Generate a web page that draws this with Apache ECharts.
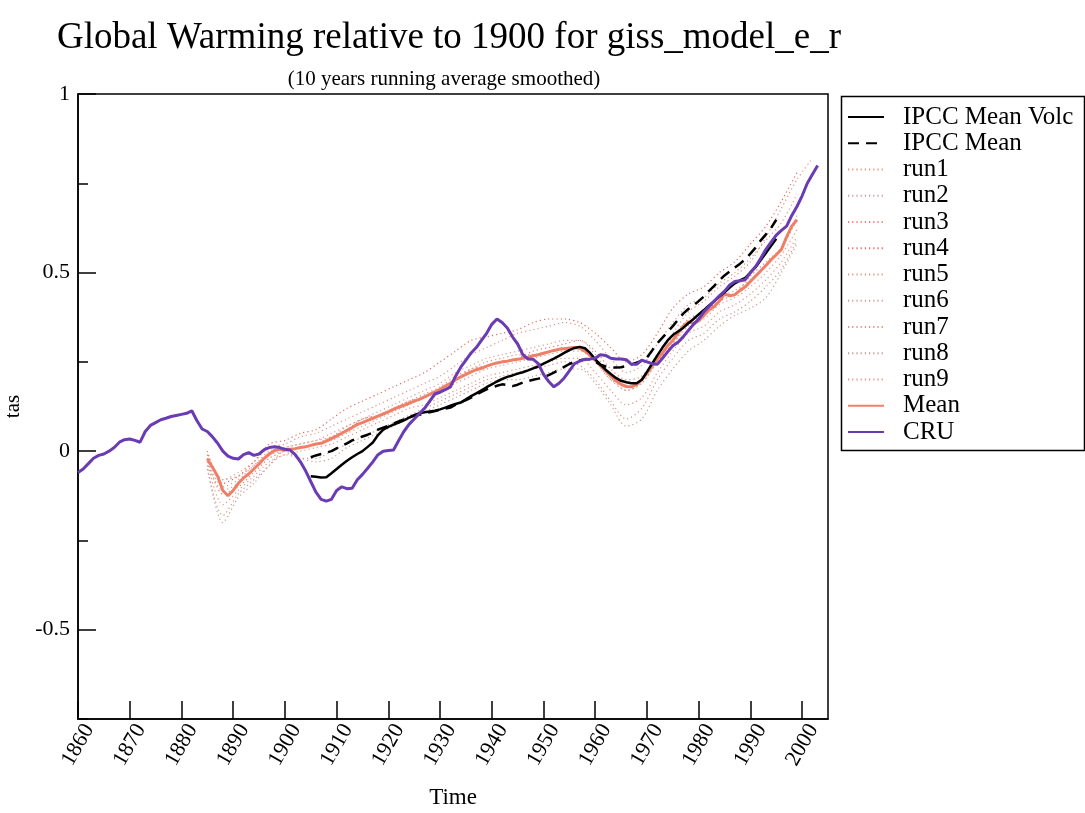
<!DOCTYPE html>
<html>
<head>
<meta charset="utf-8">
<title>Global Warming relative to 1900 for giss_model_e_r</title>
<script src="https://cdn.jsdelivr.net/npm/echarts@6/dist/echarts.min.js"></script>
<style>
  html, body { margin: 0; padding: 0; background: #ffffff; }
  #chart { width: 1085px; height: 813px; }
</style>
</head>
<body>
<div id="chart"></div>
<script>
// ---- data: annual anomalies (K) relative to 1900, 10-year running mean ----
const cruStart = 1860;
const cru = [
  -0.06, -0.05, -0.035, -0.02, -0.012, -0.008, 0.0, 0.01, 0.025, 0.032,
  0.034, 0.03, 0.025, 0.055, 0.072, 0.08, 0.088, 0.092, 0.097, 0.1,
  0.103, 0.106, 0.113, 0.085, 0.062, 0.055, 0.04, 0.022, 0.0, -0.014,
  -0.02, -0.022, -0.01, -0.004, -0.012, -0.008, 0.004, 0.01, 0.012, 0.01,
  0.005, 0.003, -0.01, -0.03, -0.055, -0.085, -0.115, -0.135, -0.14, -0.135,
  -0.11, -0.1, -0.105, -0.104, -0.08, -0.065, -0.048, -0.03, -0.01, 0.0,
  0.002, 0.003, 0.03, 0.055, 0.075, 0.09, 0.105, 0.12, 0.14, 0.16,
  0.165, 0.172, 0.18, 0.21, 0.235, 0.255, 0.275, 0.29, 0.31, 0.33,
  0.355, 0.37, 0.36, 0.345, 0.32, 0.3, 0.27, 0.258, 0.257, 0.245,
  0.215, 0.195, 0.18, 0.19, 0.205, 0.225, 0.245, 0.252, 0.257, 0.258,
  0.26, 0.27, 0.268, 0.26, 0.258, 0.258, 0.256, 0.243, 0.243, 0.255,
  0.25, 0.245, 0.243, 0.26, 0.278, 0.295, 0.305, 0.32, 0.338, 0.355,
  0.37, 0.39, 0.405, 0.42, 0.435, 0.448, 0.465, 0.475, 0.477, 0.48,
  0.5, 0.517, 0.54, 0.565, 0.585, 0.605, 0.618, 0.63, 0.66, 0.685,
  0.715, 0.75, 0.775, 0.8
];

const meanStart = 1885;
const ensembleMean = [
  -0.022, -0.045, -0.07, -0.11, -0.125, -0.11, -0.09, -0.075, -0.064, -0.05,
  -0.036, -0.02, -0.008, 0.002, 0.005, 0.003, 0.005, 0.007, 0.01, 0.012,
  0.016, 0.02, 0.022, 0.028, 0.035, 0.042, 0.05, 0.058, 0.066, 0.075,
  0.08, 0.086, 0.092, 0.098, 0.104, 0.11, 0.117, 0.123, 0.128, 0.134,
  0.14, 0.145, 0.152, 0.159, 0.166, 0.173, 0.182, 0.19, 0.2, 0.208,
  0.215, 0.222, 0.228, 0.232, 0.238, 0.243, 0.247, 0.25, 0.252, 0.255,
  0.257, 0.26, 0.263, 0.267, 0.27, 0.274, 0.278, 0.282, 0.285, 0.287,
  0.289, 0.29, 0.288, 0.28, 0.268, 0.255, 0.24, 0.225, 0.21, 0.197,
  0.187, 0.181, 0.18, 0.186, 0.2, 0.218, 0.238, 0.258, 0.275, 0.295,
  0.31, 0.33, 0.35, 0.362, 0.358, 0.365, 0.38, 0.395, 0.405, 0.42,
  0.44, 0.435, 0.438, 0.45, 0.46, 0.475, 0.49, 0.505, 0.52, 0.536,
  0.55, 0.565, 0.6, 0.63, 0.648
];

const ipccStart = 1905;
const ipccMeanVolc = [
  -0.07, -0.072, -0.074, -0.073, -0.062, -0.05, -0.038, -0.027, -0.017, -0.008,
  0.0, 0.012, 0.024, 0.045, 0.06, 0.068, 0.074, 0.08, 0.086, 0.094,
  0.101, 0.106, 0.109, 0.111, 0.113, 0.117, 0.122, 0.127, 0.132, 0.136,
  0.145, 0.154, 0.162, 0.17, 0.179, 0.187, 0.195, 0.202, 0.208, 0.212,
  0.217, 0.221, 0.226, 0.232, 0.237, 0.245, 0.252, 0.259, 0.267, 0.275,
  0.283, 0.289, 0.292, 0.288, 0.275, 0.257, 0.242, 0.228, 0.216, 0.205,
  0.197, 0.193, 0.19, 0.19, 0.2, 0.222, 0.245, 0.268, 0.29, 0.31,
  0.325, 0.335, 0.345, 0.358, 0.37, 0.383, 0.395, 0.408, 0.42, 0.433,
  0.445, 0.458, 0.47, 0.478, 0.485, 0.5, 0.515, 0.535, 0.555, 0.575,
  0.595
];
const ipccMean = [
  -0.017, -0.012, -0.008, -0.004, 0.0, 0.008, 0.015, 0.022, 0.03, 0.036,
  0.041, 0.046, 0.052, 0.06, 0.066, 0.071, 0.077, 0.083, 0.089, 0.095,
  0.099, 0.102, 0.106, 0.109, 0.112, 0.116, 0.119, 0.122, 0.13, 0.137,
  0.143, 0.15, 0.158, 0.166, 0.173, 0.178, 0.183, 0.187, 0.185, 0.182,
  0.186, 0.192, 0.196, 0.2, 0.203, 0.207, 0.213, 0.22, 0.228, 0.236,
  0.244, 0.25, 0.254, 0.257, 0.257, 0.25, 0.242, 0.237, 0.235, 0.234,
  0.235, 0.238, 0.243, 0.248, 0.253, 0.262, 0.282, 0.302, 0.318, 0.334,
  0.35, 0.368, 0.385, 0.398, 0.408, 0.42, 0.433, 0.449, 0.463, 0.478,
  0.492, 0.503, 0.514, 0.525, 0.537, 0.553, 0.57, 0.59, 0.607, 0.625,
  0.648
];

// individual ensemble members, sampled every 3 years
const runYears = [
  1885, 1888, 1891, 1894, 1897, 1900, 1903, 1906, 1909, 1912,
  1915, 1918, 1921, 1924, 1927, 1930, 1933, 1936, 1939, 1942,
  1945, 1948, 1951, 1954, 1957, 1960, 1963, 1966, 1969, 1972,
  1975, 1978, 1981, 1984, 1987, 1990, 1993, 1996, 1999, 2002
];
const run1 = [-0.01, -0.08, -0.06, -0.03, 0.01, 0.02, 0.04, 0.05, 0.07, 0.09, 0.11, 0.13, 0.15, 0.17, 0.19, 0.21, 0.24, 0.27, 0.29, 0.31, 0.33, 0.34, 0.35, 0.36, 0.35, 0.31, 0.26, 0.22, 0.24, 0.3, 0.36, 0.41, 0.43, 0.47, 0.5, 0.54, 0.59, 0.64, 0.72, null];
const run2 = [-0.04, -0.2, -0.13, -0.09, -0.04, -0.01, -0.02, -0.03, -0.02, 0.01, 0.03, 0.05, 0.07, 0.09, 0.11, 0.13, 0.15, 0.17, 0.19, 0.2, 0.2, 0.21, 0.22, 0.23, 0.23, 0.19, 0.13, 0.07, 0.09, 0.17, 0.23, 0.28, 0.31, 0.35, 0.38, 0.4, 0.43, 0.5, 0.58, null];
const run3 = [-0.02, -0.12, -0.1, -0.06, -0.02, 0.0, 0.01, 0.02, 0.04, 0.06, 0.09, 0.1, 0.12, 0.14, 0.15, 0.17, 0.2, 0.23, 0.24, 0.25, 0.26, 0.28, 0.29, 0.3, 0.31, 0.28, 0.23, 0.2, 0.21, 0.27, 0.32, 0.37, 0.39, 0.42, 0.44, 0.49, 0.53, 0.57, 0.65, null];
const run4 = [0.0, -0.09, -0.07, -0.03, 0.02, 0.03, 0.05, 0.06, 0.09, 0.12, 0.14, 0.16, 0.18, 0.2, 0.22, 0.25, 0.28, 0.31, 0.32, 0.33, 0.34, 0.36, 0.37, 0.37, 0.36, 0.33, 0.29, 0.25, 0.27, 0.33, 0.4, 0.44, 0.46, 0.5, 0.53, 0.58, 0.63, 0.7, 0.78, null];
const run5 = [-0.03, -0.15, -0.11, -0.07, -0.03, -0.01, 0.0, 0.01, 0.02, 0.04, 0.06, 0.08, 0.1, 0.12, 0.13, 0.15, 0.17, 0.19, 0.21, 0.22, 0.23, 0.24, 0.25, 0.26, 0.26, 0.22, 0.17, 0.13, 0.15, 0.22, 0.28, 0.33, 0.35, 0.39, 0.41, 0.44, 0.48, 0.53, 0.6, null];
const run6 = [-0.02, -0.1, -0.08, -0.04, -0.01, 0.01, 0.02, 0.03, 0.05, 0.07, 0.09, 0.11, 0.13, 0.15, 0.17, 0.19, 0.22, 0.24, 0.26, 0.27, 0.28, 0.29, 0.3, 0.31, 0.31, 0.27, 0.21, 0.17, 0.19, 0.25, 0.3, 0.36, 0.38, 0.43, 0.45, 0.48, 0.52, 0.57, 0.66, null];
const run7 = [-0.01, -0.08, -0.07, -0.04, 0.0, 0.01, 0.02, 0.03, 0.04, 0.07, 0.09, 0.1, 0.12, 0.14, 0.16, 0.18, 0.21, 0.23, 0.25, 0.26, 0.27, 0.27, 0.28, 0.29, 0.29, 0.25, 0.2, 0.18, 0.2, 0.27, 0.33, 0.39, 0.42, 0.46, 0.49, 0.53, 0.6, 0.68, 0.76, 0.82];
const run8 = [-0.05, -0.18, -0.12, -0.08, -0.04, 0.0, -0.02, -0.02, 0.0, 0.02, 0.04, 0.06, 0.08, 0.1, 0.12, 0.14, 0.16, 0.18, 0.2, 0.21, 0.22, 0.23, 0.24, 0.25, 0.24, 0.2, 0.14, 0.09, 0.12, 0.2, 0.26, 0.31, 0.33, 0.37, 0.39, 0.42, 0.46, 0.51, 0.59, null];
const run9 = [-0.03, -0.11, -0.09, -0.05, -0.01, 0.0, 0.01, 0.02, 0.03, 0.05, 0.07, 0.09, 0.11, 0.13, 0.15, 0.17, 0.19, 0.21, 0.23, 0.24, 0.25, 0.26, 0.27, 0.28, 0.28, 0.25, 0.2, 0.17, 0.19, 0.25, 0.3, 0.35, 0.37, 0.41, 0.43, 0.46, 0.5, 0.55, 0.62, null];

const runs = { run1, run2, run3, run4, run5, run6, run7, run8, run9 };
const runColors = ['#e39383', '#c99d95', '#ea7e72', '#e06c62', '#e69584', '#cfa198', '#e28e80', '#cb968d', '#e3988a'];

// ---- layout ----
const FONT = '"Liberation Serif", "DejaVu Serif", serif';
const G = { left: 78, top: 94, width: 750, height: 625 };
const Y_MIN = -0.75, Y_MAX = 1;
const LEGEND_FONT = 25;
const LEGEND_ROW = 26.25;

// helpers
function seq(start, values) {
  return values.map((v, i) => [start + i, v]);
}
function pairs(xs, ys) {
  return xs.map((x, i) => [x, ys[i]]);
}

const series = [];
Object.keys(runs).forEach((name, i) => {
  series.push({
    name, type: 'line', xAxisIndex: 0, yAxisIndex: 0,
    data: pairs(runYears, runs[name]),
    showSymbol: false, symbol: 'none', smooth: 0.3, z: 1,
    lineStyle: { color: runColors[i], width: 1.2, type: [1.2, 3] },
    itemStyle: { color: runColors[i] }
  });
});
series.unshift(
  {
    name: 'IPCC Mean Volc', type: 'line', data: seq(ipccStart, ipccMeanVolc),
    showSymbol: false, symbol: 'none', z: 3,
    lineStyle: { color: '#000000', width: 2.5 }, itemStyle: { color: '#000000' }
  },
  {
    name: 'IPCC Mean', type: 'line', data: seq(ipccStart, ipccMean),
    showSymbol: false, symbol: 'none', z: 3,
    lineStyle: { color: '#000000', width: 2.5, type: [11, 7] }, itemStyle: { color: '#000000' }
  }
);
series.push(
  {
    name: 'Mean', type: 'line', data: seq(meanStart, ensembleMean),
    showSymbol: false, symbol: 'none', z: 2,
    lineStyle: { color: '#ee8068', width: 3 }, itemStyle: { color: '#ee8068' }
  },
  {
    name: 'CRU', type: 'line', data: seq(cruStart, cru),
    showSymbol: false, symbol: 'none', z: 4,
    lineStyle: { color: '#6a3cb4', width: 3 }, itemStyle: { color: '#6a3cb4' }
  }
);

const isHalf = v => Math.abs(v * 2 - Math.round(v * 2)) < 1e-9;

const option = {
  animation: false,
  backgroundColor: '#ffffff',
  title: [
    {
      text: 'Global Warming relative to 1900 for giss_model_e_r',
      left: 444, top: 15, textAlign: 'center',
      textStyle: { fontFamily: FONT, fontSize: 37, fontWeight: 'normal', color: '#000' }
    },
    {
      text: '(10 years running average smoothed)',
      left: 439, top: 64, textAlign: 'center',
      textStyle: { fontFamily: FONT, fontSize: 21, fontWeight: 'normal', color: '#000' }
    }
  ],
  legend: {
    orient: 'vertical', left: 842, top: 112 - LEGEND_FONT / 2,
    itemWidth: 36, itemHeight: 14, itemGap: LEGEND_ROW - LEGEND_FONT,
    icon: 'inherit',
    itemStyle: { color: 'rgba(0,0,0,0)', borderColor: 'rgba(0,0,0,0)', borderWidth: 0 },
    data: ['IPCC Mean Volc', 'IPCC Mean', 'run1', 'run2', 'run3', 'run4', 'run5', 'run6', 'run7', 'run8', 'run9', 'Mean', 'CRU'],
    textStyle: { fontFamily: FONT, fontSize: LEGEND_FONT, color: '#000', lineHeight: LEGEND_FONT, padding: [0, 0, 0, 14] },
    selectedMode: false
  },
  graphic: [
    {
      type: 'rect', left: 839, top: 94, z: 100,
      shape: { width: 243, height: 354 },
      style: { fill: 'none', stroke: '#000', lineWidth: 1.5 }
    }
  ],
  grid: [
    { left: G.left, top: G.top, width: G.width, height: G.height, outerBoundsMode: 'none',
      show: true, borderColor: '#000', borderWidth: 1.5, backgroundColor: 'transparent' },
    // companion grid carrying the longer major ticks on the half-unit values
    { left: G.left, top: G.top, width: G.width, outerBoundsMode: 'none',
      height: G.height * (Y_MAX - (-0.5)) / (Y_MAX - Y_MIN) }
  ],
  xAxis: [
    {
      type: 'value', gridIndex: 0, min: 1860, max: 2005, interval: 10,
      name: 'Time', nameLocation: 'middle', nameGap: 67,
      nameTextStyle: { fontFamily: FONT, fontSize: 23, color: '#000' },
      axisLine: { show: true, onZero: false, lineStyle: { color: '#000', width: 1.5 } },
      axisTick: { show: true, inside: true, length: 18, lineStyle: { color: '#000', width: 1.5 } },
      splitLine: { show: false },
      axisLabel: {
        rotate: 60, fontFamily: FONT, fontSize: 22, color: '#000', margin: 26,
        align: 'center', verticalAlign: 'middle',
        showMaxLabel: false,
        formatter: v => String(v)
      }
    },
    { type: 'value', gridIndex: 1, min: 1860, max: 2005, show: false }
  ],
  yAxis: [
    {
      type: 'value', gridIndex: 0, min: Y_MIN, max: Y_MAX, interval: 0.25,
      name: 'tas', nameLocation: 'middle', nameGap: 47, nameRotate: 90,
      nameTextStyle: { fontFamily: FONT, fontSize: 21, color: '#000' },
      axisLine: { show: true, onZero: false, lineStyle: { color: '#000', width: 1.5 } },
      axisTick: { show: true, inside: true, length: 10, lineStyle: { color: '#000', width: 1.5 } },
      splitLine: { show: false },
      axisLabel: {
        fontFamily: FONT, fontSize: 22, color: '#000', margin: 8,
        formatter: v => (isHalf(v) ? String(v) : '')
      }
    },
    {
      type: 'value', gridIndex: 1, min: -0.5, max: Y_MAX, interval: 0.5,
      axisLine: { show: false, onZero: false },
      axisTick: { show: true, inside: true, length: 18, lineStyle: { color: '#000', width: 1.5 } },
      axisLabel: { show: false },
      splitLine: { show: false }
    }
  ],
  series
};

const chart = echarts.init(document.getElementById('chart'), null, { renderer: 'canvas' });
chart.setOption(option);
</script>
</body>
</html>
